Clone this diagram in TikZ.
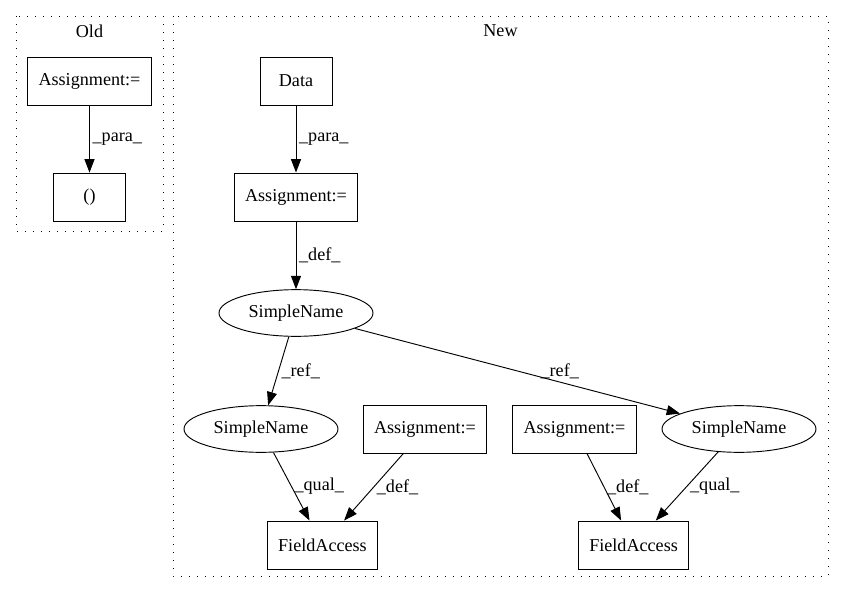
\documentclass[tikz,border=0pt]{standalone}
\usepackage{fontspec}
\setmainfont{Liberation Serif}
\usetikzlibrary{arrows.meta,shapes.geometric}
\begin{document}
\begin{tikzpicture}[x = 0.75pt, y = -0.75pt, node distance = 87pt,
   font = \fontsize{13.6}{16}\selectfont, line width = 0.7pt,
   >={Triangle[length=10pt, width=7.5pt]},
   box/.style = {draw, minimum width = 54pt, minimum height = 36pt, inner xsep = 8pt},
   oval/.style = {draw, ellipse, minimum width = 115.5pt, minimum height = 35pt, inner sep = 0pt},
   lbl/.style = {inner sep = 2pt},
   cluster/.style = {draw, dash pattern = on 1pt off 5pt}]
   \useasboundingbox (0,0) rectangle (843,596);
   % clusters
   \draw[cluster] (16,16) rectangle (163,231);
   \draw[cluster] (173,16) rectangle (828,576);
   \node (OldT) at (89.5,31) {Old};
   \node (NewT) at (500.5,31) {New};
   % old
   \node[box] (OldA) at (89.5,81) {Assignment:=};
   \node[box, below of = OldA] (OldP) {()};
   \draw[->] (OldA) to node[lbl, right] {\_para\_} (OldP);
   % new
   \node[box] (Data) at (296,81) {Data};
   \node[box, below of = Data] (NewA) {Assignment:=};
   \node[oval, below of = NewA] (SN) {SimpleName};
   \node[oval] (SNl) at (261,429) {SimpleName};
   \node[oval] (SNr) at (739,429) {SimpleName};
   \node[box] (Al) at (425,429) {Assignment:=};
   \node[box] (Ar) at (574.5,429) {Assignment:=};
   \node[box, below of = SNl, xshift = 46.1pt] (FAl) {FieldAccess};
   \node[box, below of = Ar, xshift = 44.3pt] (FAr) {FieldAccess};
   \draw[->] (Data) to node[lbl, right] {\_para\_} (NewA);
   \draw[->] (NewA) to node[lbl, right] {\_def\_} (SN);
   \draw[->] (SN) to node[lbl, right] {\_ref\_} (SNl);
   \draw[->] (SN) to node[lbl, pos = 0.63, above] {\_ref\_} (SNr);
   \draw[->] (SNl) to node[lbl, right] {\_qual\_} (FAl);
   \draw[->] (Al) to node[lbl, right] {\_def\_} (FAl);
   \draw[->] (Ar) to node[lbl, right] {\_def\_} (FAr);
   \draw[->] (SNr) to node[lbl, right] {\_qual\_} (FAr);
  \end{tikzpicture}
\end{document}
